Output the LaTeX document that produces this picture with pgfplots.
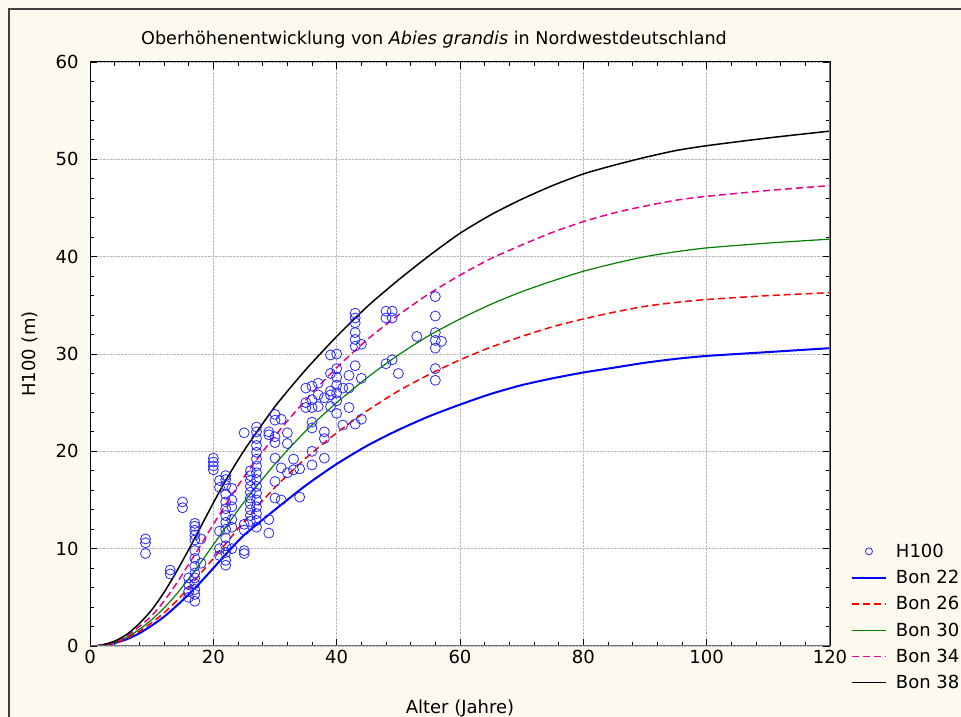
\documentclass[border=0pt]{standalone}
\usepackage{pgfplots}
\pgfplotsset{compat=1.18}
\usepackage{fontspec}
\setmainfont{DejaVu Sans}
\definecolor{bgc}{RGB}{252,249,239}
\definecolor{ptblue}{RGB}{40,40,255}
\definecolor{cgreen}{RGB}{0,128,0}
\pgfplotsset{
  lineleg/.style={legend image code/.code={\path[draw=none] (0pt,0pt) -- (42pt,0pt);\draw[##1] (0pt,0pt) -- (34pt,0pt);}},
  markleg/.style={legend image code/.code={\path[draw=none] (0pt,0pt) -- (42pt,0pt);\draw[mark repeat=2,mark phase=2,##1, mark size=3.5pt] plot coordinates {(0pt,0pt) (17pt,0pt) (34pt,0pt)};}},
}

\pgfplotstableread{
x y
9 11.0
9 10.6
9 9.5
13 7.8
13 7.4
15 14.8
15 14.2
16 7.0
16 6.3
16 5.6
16 5.0
17 12.6
17 12.3
17 11.9
17 11.4
17 10.9
17 9.8
17 9.0
17 8.2
17 7.5
17 7.0
17 6.4
17 5.8
17 5.3
17 4.6
18 8.5
18 11.0
20 19.3
20 18.9
20 18.5
20 18.1
21 17.0
21 16.3
21 11.8
21 10.0
21 9.3
22 17.5
22 17.1
22 16.5
22 15.6
22 14.8
22 14.1
22 13.4
22 12.7
22 12.0
22 11.1
22 10.3
22 9.6
22 8.8
22 8.3
23 16.2
23 15.0
23 14.3
23 13.0
23 12.2
23 10.0
25 21.9
25 12.5
25 11.9
25 9.8
25 9.5
26 18.0
26 17.5
26 17.0
26 16.4
26 15.8
26 15.2
26 14.6
26 14.0
26 13.4
26 12.8
27 22.5
27 22.0
27 21.3
27 20.6
27 19.9
27 19.2
27 18.5
27 17.8
27 17.1
27 16.4
27 15.7
27 15.0
27 14.3
27 13.6
27 12.9
27 12.2
29 22.0
29 21.7
29 13.0
29 11.6
30 23.8
30 23.2
30 21.5
30 20.9
30 19.3
30 16.9
30 15.2
31 23.3
31 18.3
31 15.0
32 21.9
32 20.8
32 17.8
33 19.2
33 18.1
34 18.2
34 15.3
35 26.5
35 25.0
35 24.5
36 26.7
36 25.3
36 24.5
36 23.0
36 22.4
36 20.0
36 18.6
37 27.0
37 25.8
37 24.6
38 25.5
38 22.0
38 21.3
38 19.3
39 29.9
39 28.0
39 26.2
39 25.8
39 24.6
40 30.0
40 28.5
40 27.6
40 26.8
40 26.0
40 25.2
40 23.9
41 26.5
41 22.7
42 27.8
42 26.5
42 24.5
43 34.2
43 33.7
43 33.2
43 32.2
43 31.5
43 30.8
43 28.8
43 22.8
44 31.0
44 27.5
44 23.3
48 34.4
48 33.7
48 29.0
49 34.4
49 33.7
49 29.4
50 28.0
53 31.8
56 35.9
56 33.9
56 32.2
56 31.4
56 30.6
56 28.5
56 27.3
57 31.3
}\pointdata

\pgfplotstableread{
x y
1 0
2 0.1
4 0.3
6 0.7
8 1.3
10 2.1
12 3.0
14 4.1
16 5.3
18 6.6
20 8.0
22 9.4
25 11.4
30 14.0
35 16.5
40 18.7
45 20.6
50 22.2
55 23.6
60 24.8
65 25.9
70 26.8
75 27.5
80 28.1
85 28.6
90 29.1
95 29.5
100 29.8
110 30.2
120 30.6
}\bontwentytwo

\pgfplotstableread{
x y
1 0
2 0.1
4 0.3
6 0.8
8 1.5
10 2.4
12 3.4
14 4.6
16 6.0
18 7.5
20 9.0
22 10.5
25 12.8
30 16.3
35 19.3
40 21.9
45 24.2
50 26.2
55 27.9
60 29.4
65 30.7
70 31.8
75 32.8
80 33.6
85 34.3
90 34.9
95 35.3
100 35.6
110 36.0
120 36.3
}\bontwentysix

\pgfplotstableread{
x y
1 0
2 0.1
4 0.4
6 0.9
8 1.7
10 2.7
12 3.9
14 5.3
16 6.9
18 8.6
20 10.4
22 12.2
25 14.8
30 18.7
35 22.1
40 25.0
45 27.6
50 29.9
55 31.9
60 33.6
65 35.1
70 36.4
75 37.5
80 38.5
85 39.3
90 40.0
95 40.5
100 40.9
110 41.4
120 41.8
}\bonthirty

\pgfplotstableread{
x y
1 0
2 0.1
4 0.4
6 1.0
8 2.0
10 3.1
12 4.6
14 6.4
16 8.4
18 10.4
20 12.5
22 14.5
25 17.4
30 21.6
35 25.3
40 28.6
45 31.5
50 34.0
55 36.2
60 38.1
65 39.8
70 41.2
75 42.5
80 43.6
85 44.5
90 45.2
95 45.8
100 46.2
110 46.8
120 47.3
}\bonthirtyfour

\pgfplotstableread{
x y
1 0
2 0.1
4 0.5
6 1.2
8 2.3
10 3.7
12 5.5
14 7.6
16 9.9
18 12.3
20 14.7
22 17.0
25 20.1
30 24.6
35 28.4
40 31.8
45 34.9
50 37.6
55 40.1
60 42.4
65 44.3
70 45.9
75 47.3
80 48.5
85 49.4
90 50.2
95 50.9
100 51.4
110 52.2
120 52.9
}\bonthirtyeight

\begin{document}
\begin{tikzpicture}[x=1pt,y=1pt]
\useasboundingbox (0,0) rectangle (961,717);
\fill[bgc] (0,0) rectangle (961,717);
\draw[black!75, line width=2pt] (9,-5) -- (9,708) -- (975,708);
\node[font=\fontsize{17.6}{20}\selectfont] at (434,677) {Oberhöhenentwicklung von \textit{Abies grandis} in Nordwestdeutschland};
\node[font=\fontsize{18}{20}\selectfont, rotate=90] at (30,363) {H100 (m)};
\node[font=\fontsize{18}{20}\selectfont] at (460,9) {Alter (Jahre)};
\begin{axis}[
  at={(90pt,71pt)}, anchor=south west,
  scale only axis, width=740pt, height=584pt,
  xmin=0, xmax=120, ymin=0, ymax=60,
  xtick={0,20,...,120}, ytick={0,10,...,60},
  minor x tick num=4, minor y tick num=4,
  tick align=inside, major tick length=7pt, minor tick length=4pt,
  tick style={black, line width=0.8pt},
  grid=major, major grid style={densely dotted, black!28, line width=0.5pt},
  axis background/.style={fill=white},
  axis line style={black, line width=1pt},
  /pgf/number format/assume math mode=true,
  tick label style={font=\fontsize{18}{20}\selectfont},
  xticklabel style={yshift=-1pt},
  yticklabel style={xshift=-8pt},
  legend cell align=left,
  legend style={draw=none, fill=none, at={(1.024,0.182)}, anchor=north west,
    font=\fontsize{18}{20}\selectfont, row sep=7.4pt},
]
\addplot[only marks, mark=o, mark size=5pt, ptblue, line width=0.8pt, markleg]
  table[x=x,y=y] {\pointdata};
\addlegendentry{H100}
\addplot[blue, line width=2pt, smooth, tension=0.4, lineleg] table[x=x,y=y] {\bontwentytwo};
\addlegendentry{Bon 22}
\addplot[red, line width=1.5pt, dash pattern=on 7pt off 4pt, smooth, tension=0.4, lineleg] table[x=x,y=y] {\bontwentysix};
\addlegendentry{Bon 26}
\addplot[cgreen, line width=1.2pt, smooth, tension=0.4, lineleg] table[x=x,y=y] {\bonthirty};
\addlegendentry{Bon 30}
\addplot[magenta, line width=1.5pt, dash pattern=on 7pt off 4pt, smooth, tension=0.4, lineleg] table[x=x,y=y] {\bonthirtyfour};
\addlegendentry{Bon 34}
\addplot[black, line width=1.5pt, smooth, tension=0.4, lineleg] table[x=x,y=y] {\bonthirtyeight};
\addlegendentry{Bon 38}
\draw[black!55, line width=2.5pt] (rel axis cs:1,1) -- (rel axis cs:1,0) -- (rel axis cs:0,0);
\end{axis}
\end{tikzpicture}
\end{document}
